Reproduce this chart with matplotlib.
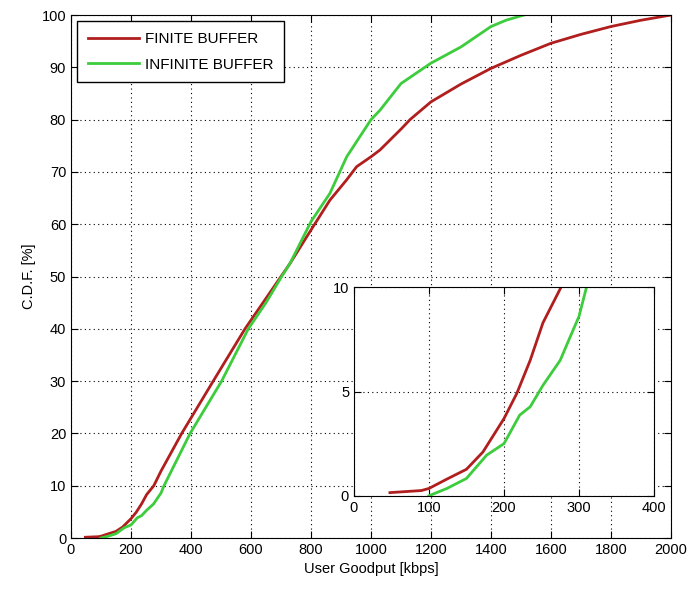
import numpy as np
import matplotlib.pyplot as plt

plt.rcParams['font.family'] = ['Liberation Sans', 'DejaVu Sans']

# goodput (kbps) and CDF (%)
finite_x = [48, 90, 100, 124, 150, 172, 200, 217, 235, 252, 276, 300, 369, 474,
            580, 640, 700, 730, 800, 863, 919, 952, 1000, 1030, 1102, 1130,
            1200, 1300, 1400, 1500, 1600, 1700, 1800, 1900, 2000]
finite_y = [0.15, 0.25, 0.35, 0.8, 1.27, 2.1, 3.7, 4.9, 6.5, 8.3, 10, 12.8, 20, 30,
            40, 45, 50, 52.5, 58.9, 64.6, 68.5, 71, 72.9, 74.2, 78.3, 80,
            83.4, 86.8, 89.8, 92.3, 94.6, 96.3, 97.8, 99, 100]

infinite_x = [100, 124, 150, 177, 200, 221, 235, 252, 275, 288, 300, 310, 397, 502,
              591, 650, 700, 730, 800, 863, 919, 1000, 1030, 1100, 1200, 1300, 1400,
              1450, 1510]
infinite_y = [0, 0.35, 0.83, 1.95, 2.5, 3.87, 4.27, 5.3, 6.5, 7.6, 8.6, 10, 20, 30,
              40, 45, 49.8, 52.5, 60.5, 65.9, 72.9, 80, 81.8, 86.9, 90.8, 93.9, 97.8,
              99, 100]

red = '#b01e1e'
green = '#3ccc3c'
grid_style = dict(color='black', linestyle=(0, (1, 3)), linewidth=0.8)

fig = plt.figure(figsize=(6.94, 5.93), dpi=100)
ax = fig.add_axes([0.1023, 0.0927, 0.8646, 0.882])
ax.plot(finite_x, finite_y, color=red, lw=2, label='FINITE BUFFER')
ax.plot(infinite_x, infinite_y, color=green, lw=2, label='INFINITE BUFFER')
ax.set_xlim(0, 2000)
ax.set_ylim(0, 100)
ax.set_xticks(np.arange(0, 2001, 200))
ax.set_yticks(np.arange(0, 101, 10))
ax.grid(True, **grid_style)
ax.tick_params(direction='in', top=True, right=True, labelsize=10.5, length=5)
ax.set_xlabel('User Goodput [kbps]', fontsize=10.5)
ax.set_ylabel('C.D.F. [%]', fontsize=10.5)
leg = ax.legend(loc='upper left', fancybox=False, edgecolor='black', framealpha=1,
                fontsize=11, handlelength=3.3, handletextpad=0.4,
                labelspacing=0.75, borderpad=0.7, borderaxespad=0.42)
leg.get_frame().set_linewidth(1)

# zoomed inset of the lower tail
ins = fig.add_axes([0.510, 0.164, 0.4323, 0.3514])
ins.plot(finite_x, finite_y, color=red, lw=2)
ins.plot(infinite_x, infinite_y, color=green, lw=2)
ins.set_xlim(0, 400)
ins.set_ylim(0, 10)
ins.set_xticks(np.arange(0, 401, 100))
ins.set_yticks([0, 5, 10])
ins.grid(True, **grid_style)
ins.tick_params(direction='in', top=True, right=True, labelsize=10.5, length=5)

fig.savefig('out.png', dpi=100)
